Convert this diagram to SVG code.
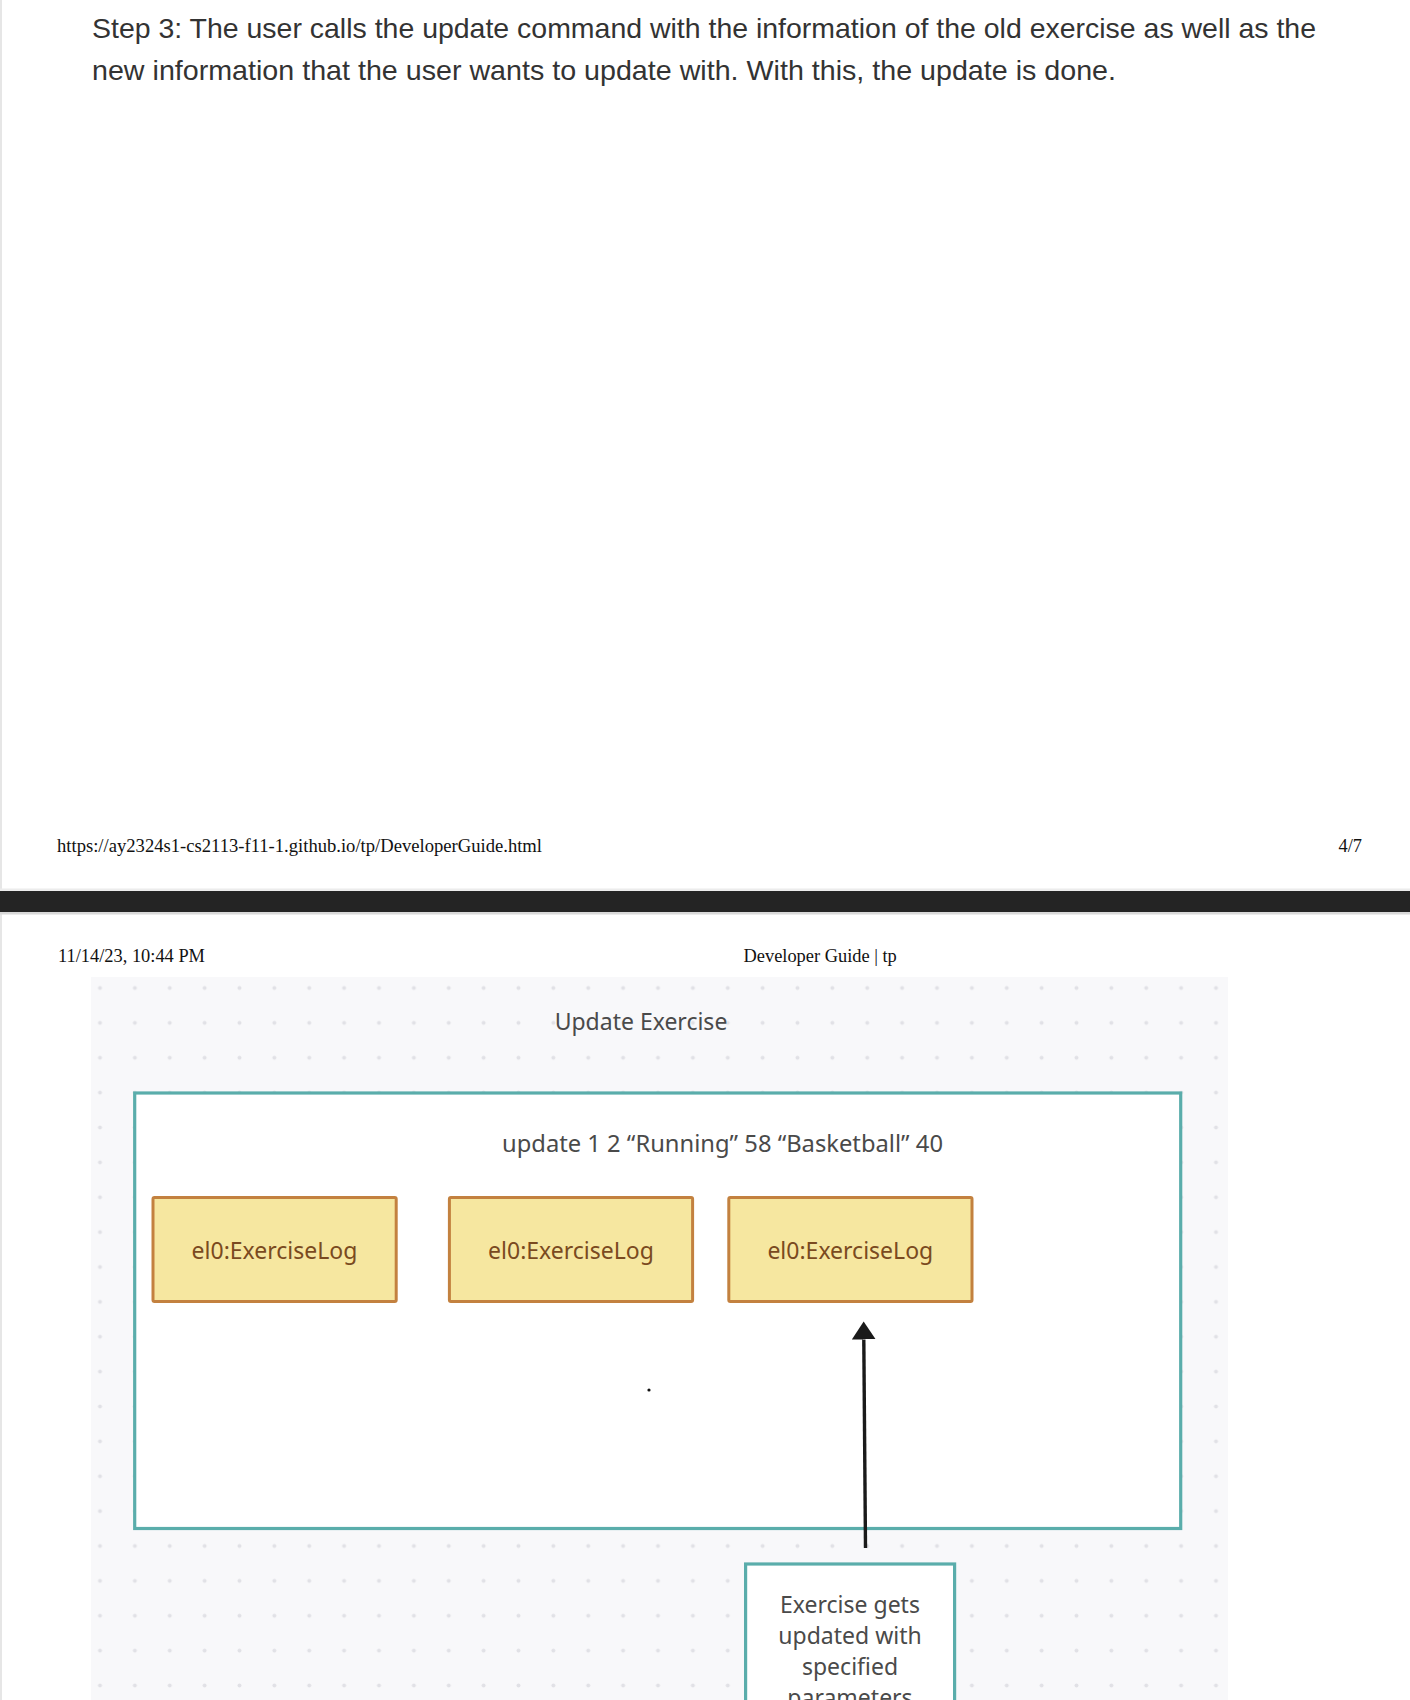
<svg xmlns="http://www.w3.org/2000/svg" width="1410" height="1700" viewBox="0 0 1410 1700">
<style>
.prose{font-family:"Liberation Sans",Arial,Helvetica,sans-serif;font-size:28.5px;fill:#333333}
.print{font-family:"Liberation Serif","Times New Roman",serif;font-size:18.4px;fill:#111111}
.dg{font-family:"Noto Sans","Open Sans",sans-serif;font-size:23px;text-anchor:middle}
.title{fill:#4a4a4a}
.obj rect{fill:#f6e7a0;stroke:#c3813f;stroke-width:3}
.obj text{fill:#7a4a20}
.frame{fill:#ffffff;stroke:#5aadab;stroke-width:3.2}
.note text{fill:#4a4a4a}
.conn{stroke:#1a1a1a;stroke-width:3.4;fill:none}
</style>
<defs>
<pattern id="dots" patternUnits="userSpaceOnUse" x="82.5625" y="970.5625" width="34.875" height="34.875">
<circle cx="17.4375" cy="17.4375" r="2" fill="#e1e1e6"/>
</pattern>
<marker id="head" markerUnits="userSpaceOnUse" viewBox="0 0 18 24" markerWidth="18" markerHeight="24" refX="0" refY="12" orient="auto">
<path d="M0,0 L18,12 L0,24 Z" fill="#1a1a1a"/>
</marker>
</defs>
<rect x="0" y="0" width="1410" height="1700" fill="#ffffff"/>
<rect x="0" y="0" width="2" height="889" fill="#e6e6e6"/>
<rect x="0" y="914" width="2" height="786" fill="#e6e6e6"/>
<text class="prose" x="92" y="38" textLength="1224" lengthAdjust="spacingAndGlyphs">Step 3: The user calls the update command with the information of the old exercise as well as the</text>
<text class="prose" x="92" y="80" textLength="1024" lengthAdjust="spacingAndGlyphs">new information that the user wants to update with. With this, the update is done.</text>
<text class="print" x="57" y="852" textLength="485" lengthAdjust="spacingAndGlyphs">https://ay2324s1-cs2113-f11-1.github.io/tp/DeveloperGuide.html</text>
<text class="print" x="1362" y="852" text-anchor="end">4/7</text>
<rect x="0" y="888.5" width="1410" height="2.5" fill="#ececec"/>
<rect x="0" y="891" width="1410" height="21" fill="#242424"/>
<rect x="0" y="912" width="1410" height="2.5" fill="#d8d8d8"/>
<text class="print" x="58" y="962">11/14/23, 10:44 PM</text>
<text class="print" x="743.5" y="962">Developer Guide | tp</text>
<rect x="91" y="977" width="1137" height="723" fill="#f8f8fa"/>
<rect x="91" y="977" width="1137" height="723" fill="url(#dots)"/>
<text class="dg title" x="641" y="1030">Update Exercise</text>
<g id="frame">
<rect class="frame" x="134.7" y="1093" width="1046" height="435.5"/>
<text class="dg title" x="722.5" y="1152" textLength="441" lengthAdjust="spacingAndGlyphs">update 1 2 “Running” 58 “Basketball” 40</text>
<circle cx="649" cy="1390" r="1.6" fill="#111111"/>
</g>
<g id="el0-a" class="obj">
<rect x="153" y="1197.5" width="243.2" height="104" rx="1.5"/>
<text class="dg" x="274.5" y="1259">el0:ExerciseLog</text>
</g>
<g id="el0-b" class="obj">
<rect x="449.4" y="1197.5" width="243.2" height="104" rx="1.5"/>
<text class="dg" x="571" y="1259">el0:ExerciseLog</text>
</g>
<g id="el0-c" class="obj">
<rect x="728.8" y="1197.5" width="243.2" height="104" rx="1.5"/>
<text class="dg" x="850.3" y="1259">el0:ExerciseLog</text>
</g>
<g id="note" class="note">
<rect class="frame" x="745.6" y="1564" width="209" height="160"/>
<text class="dg" x="850" y="1612.7">Exercise gets</text>
<text class="dg" x="850" y="1643.5">updated with</text>
<text class="dg" x="850" y="1675">specified</text>
<text class="dg" x="850" y="1706">parameters</text>
</g>
<g id="connectors">
<path class="conn" d="M865.5,1548 L863.8,1339.5" marker-end="url(#head)"/>
</g>
</svg>
